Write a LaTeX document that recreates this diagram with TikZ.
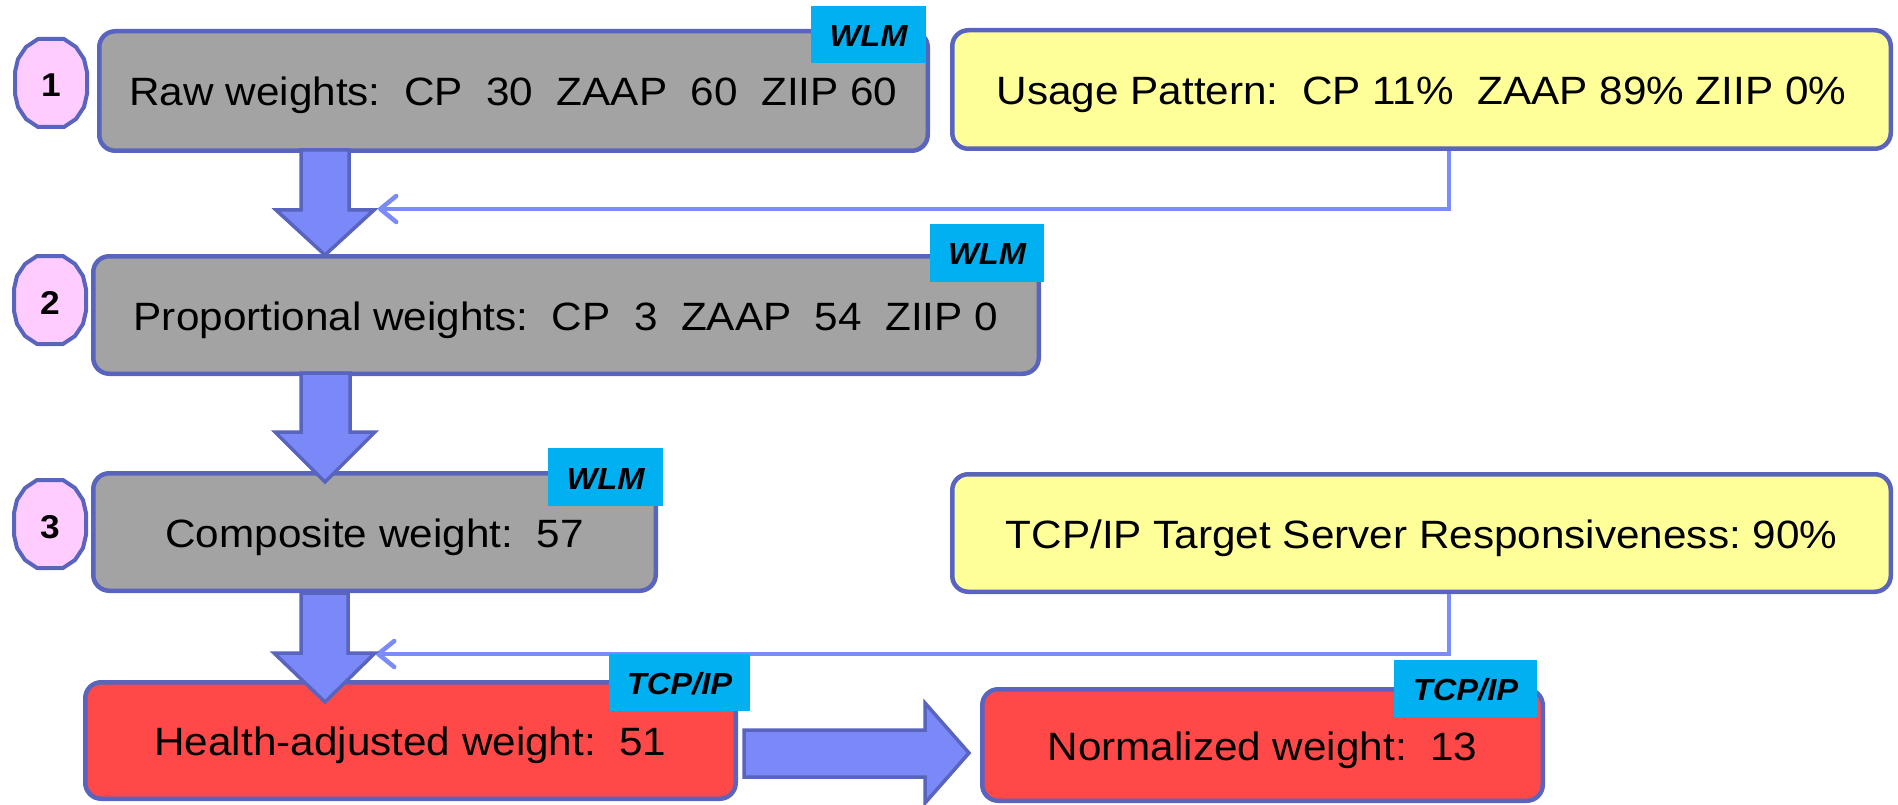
\documentclass[tikz,border=0pt]{standalone}
\usepackage{fontspec}
\setmainfont{Liberation Sans}[FakeStretch=1.07]
\usetikzlibrary{arrows.meta}
\definecolor{bord}{HTML}{5864BE}
\definecolor{boxgray}{HTML}{A3A3A3}
\definecolor{boxyellow}{HTML}{FFFF99}
\definecolor{boxred}{HTML}{FF4848}
\definecolor{tagblue}{HTML}{00B0F0}
\definecolor{numpink}{HTML}{FFCCFF}
\definecolor{arrfill}{HTML}{7A88F8}
\definecolor{connblue}{HTML}{7B8BF7}
\newcommand\mainfs{\fontsize{39.5}{46}\selectfont\frenchspacing}
\newcommand\tagfs{\fontsize{30.5}{36}\selectfont\bfseries\itshape}
\newcommand\numfs{\fontsize{33}{38}\selectfont\bfseries}
\tikzset{
  box/.style={draw=bord, line width=4.5pt, rounded corners=16pt, inner sep=0pt,
    font=\mainfs, text height=30pt, text depth=0pt, align=center},
  gbox/.style={box, fill=boxgray},
  ybox/.style={box, fill=boxyellow},
  rbox/.style={box, fill=boxred},
  tagbox/.style={fill=tagblue, inner sep=0pt, font=\tagfs, text height=24pt, text depth=0pt},
  numc/.style={draw=bord, fill=numpink, line width=4pt, line join=round},
  numtxt/.style={inner sep=0pt, font=\numfs, text height=28pt, text depth=0pt},
  bigarr/.style={draw=bord, fill=arrfill, line width=3.5pt, line join=miter},
  conn/.style={draw=connblue, line width=4.5pt, line cap=butt,
    -{Straight Barb[length=16pt,width=26pt,round]}},
}
\begin{document}
\begin{tikzpicture}[x=1pt,y=-1pt]
\useasboundingbox (0,0) rectangle (1898,805);

% boxes
\node[gbox, minimum width=828.5pt, minimum height=119.5pt] (b1) at (513.5,91)
  {Raw weights:\ \ CP\ \ 30\ \ ZAAP\ \ 60\ \ ZIIP 60};
\node[ybox, minimum width=938.5pt, minimum height=118.5pt] (y1) at (1421.5,89.5)
  {Usage Pattern:\ \ CP 11\%\ \ ZAAP 89\% ZIIP 0\%};
\node[gbox, minimum width=945.5pt, minimum height=117.5pt] (b2) at (566,315)
  {Proportional weights:\ \ CP\ \ 3\ \ ZAAP\ \ 54\ \ ZIIP 0};
\node[gbox, minimum width=562.5pt, minimum height=117.5pt] (b3) at (374.5,532)
  {Composite weight:\ \ 57};
\node[ybox, minimum width=938.5pt, minimum height=117.5pt] (y2) at (1421.5,533)
  {TCP/IP Target Server Responsiveness: 90\%};
\node[rbox, minimum width=650.5pt, minimum height=116.5pt] (b4) at (410.5,740.5)
  {Health-adjusted weight:\ \ 51};
\node[rbox, minimum width=560.5pt, minimum height=111.5pt] (b5) at (1262.5,745)
  {Normalized weight:\ \ 13};

% thin connectors
\coordinate (k1) at (1449,209);
\coordinate (e1) at (378,209);
\draw[conn] (y1.south -| k1) -- (k1) -- (e1);
\coordinate (k2) at (1449,654);
\coordinate (e2) at (376,654);
\draw[conn] (y2.south -| k2) -- (k2) -- (e2);

% big arrows
\draw[bigarr] (301,150) -- (301,210) -- (276,210) -- (325,255) -- (374,210) -- (349,210) -- (349,150) -- cycle;
\draw[bigarr] (301,373) -- (301,432) -- (275,432) -- (325,482) -- (375,432) -- (350,432) -- (350,373) -- cycle;
\draw[bigarr] (301,593) -- (301,653) -- (274,653) -- (325,702) -- (375,653) -- (348,653) -- (348,593) -- cycle;
\draw[bigarr] (744,730) -- (925,730) -- (925,703) -- (969,753) -- (925,803) -- (925,777) -- (744,777) -- cycle;

% tags
\node[tagbox, minimum width=115pt, minimum height=57pt] (t1) at (868.5,34.5) {WLM};
\node[tagbox, minimum width=114pt, minimum height=58pt] (t2) at (987,253) {WLM};
\node[tagbox, minimum width=115pt, minimum height=58pt] (t3) at (605.5,477) {WLM};
\node[tagbox, minimum width=141pt, minimum height=57pt] (t4) at (679.5,682.5) {TCP/IP};
\node[tagbox, minimum width=143pt, minimum height=57pt] (t5) at (1465.5,688.5) {TCP/IP};

% step numbers
\foreach \i/\cx/\cy in {1/51/83, 2/50/300, 3/50/524} {
  \begin{scope}[shift={(\cx,\cy)}]
    \draw[numc] (-13,-44) -- (13,-44) -- (25,-36) -- (33,-24) -- (36,-11) -- (36,11)
      -- (33,24) -- (25,36) -- (13,44) -- (-13,44) -- (-25,36) -- (-33,24) -- (-36,11)
      -- (-36,-11) -- (-33,-24) -- (-25,-36) -- cycle;
    \node[numtxt] (n\i) at (0,0) {\i};
  \end{scope}
}
\end{tikzpicture}
\end{document}
